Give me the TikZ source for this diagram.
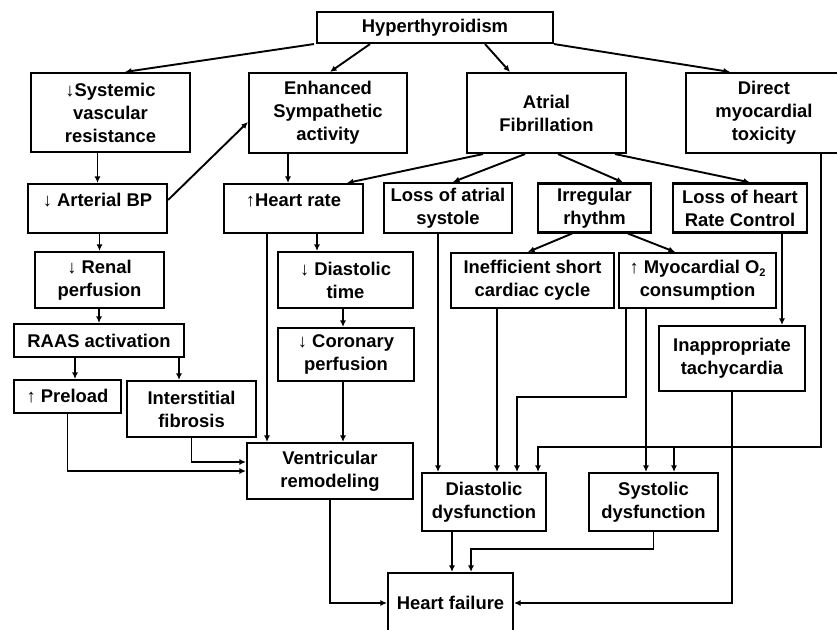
\documentclass[tikz,border=0pt]{standalone}
\usepackage{fontspec}
\setmainfont{Liberation Sans}
\usetikzlibrary{arrows.meta}
\newcommand{\bxfont}{\fontsize{18.4}{23}\selectfont\bfseries}
\begin{document}
\begin{tikzpicture}[x=1pt,y=-1pt,
  bx/.style={draw, line width=2.1pt, inner sep=0pt, align=center, font=\bxfont},
  ar/.style={line width=1.9pt, -{Latex[length=6.5pt,width=6pt]}},
  ln/.style={line width=1.9pt}]
\useasboundingbox (0,0) rectangle (837,629);
\fill[white] (0,0) rectangle (837,629);
% row 1
\node[bx, minimum width=236pt, minimum height=31pt] (hyp) at (435,27.5) {Hyperthyroidism};
\node[bx, minimum width=159pt, minimum height=79pt] (sys) at (110.5,112.5) {↓Systemic\\vascular\\resistance};
\node[bx, minimum width=158pt, minimum height=80pt] (enh) at (328,113) {Enhanced\\Sympathetic\\activity};
\node[bx, minimum width=159pt, minimum height=80pt] (af) at (546.5,113) {Atrial\\Fibrillation};
\node[bx, minimum width=156pt, minimum height=80pt] (dir) at (764,113) {Direct\\myocardial\\toxicity};
% row 2
\node[bx, minimum width=139pt, text height=22.5pt, text depth=26.5pt] (abp) at (97.5,208.5) {↓ Arterial BP};
\node[bx, minimum width=139pt, text height=22.5pt, text depth=26.5pt] (hr) at (293.5,208.5) {↑Heart rate};
\node[bx, minimum width=128pt, minimum height=50pt] (las) at (448,208) {Loss of atrial\\systole};
\node[bx, minimum width=113pt, minimum height=49pt] (irr) at (594.5,208) {Irregular\\rhythm};
\node[bx, minimum width=134pt, minimum height=49pt] (lhr) at (740,208) {Loss of heart\\Rate Control};
% row 3
\node[bx, minimum width=129pt, minimum height=56pt] (ren) at (99.5,280) {↓ Renal\\perfusion};
\node[bx, minimum width=135pt, minimum height=56pt] (dt) at (345.5,280) {↓ Diastolic\\time};
\node[bx, minimum width=163pt, minimum height=55pt] (ineff) at (532.5,280.5) {Inefficient short\\cardiac cycle};
\node[bx, minimum width=157pt, minimum height=55pt] (myo) at (697.5,280.5) {↑ Myocardial O{\fontsize{11}{11}\selectfont\raisebox{-3pt}{2}}\\consumption};
% row 4
\node[bx, minimum width=170pt, minimum height=33pt] (raas) at (99,340.5) {RAAS activation};
\node[bx, minimum width=136pt, minimum height=53pt] (cor) at (346,354.5) {↓ Coronary\\perfusion};
\node[bx, minimum width=146pt, minimum height=65pt] (inap) at (732,358.5) {Inappropriate\\tachycardia};
% row 5
\node[bx, minimum width=107pt, minimum height=33pt] (pre) at (67.5,396.5) {↑ Preload};
\node[bx, minimum width=129pt, minimum height=56pt] (fib) at (191.5,409) {Interstitial\\fibrosis};
\node[bx, minimum width=166pt, minimum height=56pt] (vr) at (330,471) {Ventricular\\remodeling};
\node[bx, minimum width=124pt, minimum height=58pt] (dd) at (484,502) {Diastolic\\dysfunction};
\node[bx, minimum width=129pt, minimum height=58pt] (sd) at (653.5,502) {Systolic\\dysfunction};
\node[bx, minimum width=125pt, minimum height=60pt] (hf) at (450.5,603) {Heart failure};
% helper coordinates
\coordinate (m1) at (0,397);
\coordinate (m2) at (0,447);
\coordinate (m3) at (0,549);
% connectors from Hyperthyroidism
\draw[ar] ([xshift=-2pt]hyp.south west) -- ([xshift=14.5pt]sys.north);
\draw[ar] ([xshift=-65pt]hyp.south) -- ([xshift=2pt]enh.north);
\draw[ar] ([xshift=50pt]hyp.south) -- ([xshift=-36.5pt]af.north);
\draw[ar] (hyp.south east) -- ([xshift=-34pt]dir.north);
% left column
\draw[ar] (sys.south -| abp.north) -- (abp.north);
\draw[ar] ([yshift=8.5pt]abp.east) -- ([yshift=-9pt]enh.west);
\draw[ar] (ren.north |- abp.south) -- (ren.north);
\draw[ar] (raas.north |- ren.south) -- (raas.north);
\draw[ar] ([xshift=7.5pt]pre.north |- raas.south) -- ([xshift=7.5pt]pre.north);
\draw[ar] ([xshift=-12.5pt]fib.north |- raas.south) -- ([xshift=-12.5pt]fib.north);
\draw[ar] (fib.south) |- ([yshift=9pt]vr.west);
\draw[ar] (pre.south) |- (vr.west);
% sympathetic branch
\draw[ar] ([xshift=-5.5pt]hr.north |- enh.south) -- ([xshift=-5.5pt]hr.north);
\draw[ar] ([xshift=-28.5pt]dt.north |- hr.south) -- ([xshift=-28.5pt]dt.north);
\draw[ar] ([xshift=-3pt]cor.north |- dt.south) -- ([xshift=-3pt]cor.north);
\draw[ar] ([xshift=-63pt]vr.north |- hr.south) -- ([xshift=-63pt]vr.north);
\draw[ar] ([xshift=13pt]vr.north |- cor.south) -- ([xshift=13pt]vr.north);
\draw[ar] (vr.south) |- (hf.west);
% atrial fibrillation branch
\draw[ar] ([xshift=-63.5pt]af.south) -- ([xshift=53.5pt]hr.north);
\draw[ar] ([xshift=-21.5pt]af.south) -- ([xshift=5pt]las.north);
\draw[ar] ([xshift=11.5pt]af.south) -- ([xshift=28.5pt]irr.north);
\draw[ar] ([xshift=68.5pt]af.south) -- ([xshift=10pt]lhr.north);
\draw[ar] ([xshift=-22.5pt]irr.south) -- ([xshift=-4.5pt]ineff.north);
\draw[ar] ([xshift=33.5pt]irr.south) -- ([xshift=-22.5pt]myo.north);
\draw[ar] ([xshift=50pt]inap.north |- lhr.south) -- ([xshift=50pt]inap.north);
\draw[ar] ([xshift=-46pt]dd.north |- las.south) -- ([xshift=-46pt]dd.north);
\draw[ar] ([xshift=13pt]dd.north |- ineff.south) -- ([xshift=13pt]dd.north);
\draw[ar] ([xshift=-71.5pt]myo.south) -- ([xshift=-71.5pt]myo.south |- m1) -| ([xshift=33pt]dd.north);
\draw[ar] ([xshift=-7.5pt]sd.north |- myo.south) -- ([xshift=-7.5pt]sd.north);
% direct toxicity
\draw[ar] ([xshift=57pt]dir.south) -- ([xshift=57pt]dir.south |- m2) -| ([xshift=54pt]dd.north);
\draw[ar] ([xshift=20.5pt]sd.north |- m2) -- ([xshift=20.5pt]sd.north);
% to heart failure
\draw[ar] (inap.south) |- (hf.east);
\draw[ar] ([xshift=-32pt]dd.south) -- ([xshift=-32pt]dd.south |- hf.north);
\draw[ar] (sd.south) -- (sd.south |- m3) -| ([xshift=20.5pt]hf.north);
\end{tikzpicture}
\end{document}
